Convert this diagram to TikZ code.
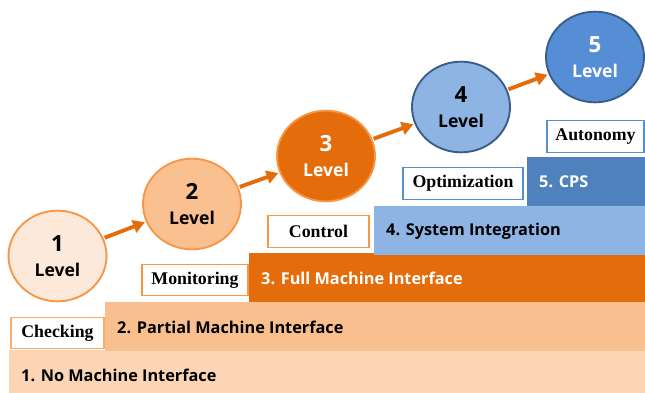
\documentclass[tikz,border=0pt]{standalone}
\usepackage{fontspec}
\setmainfont{Liberation Serif}
\setsansfont{Open Sans}
\usetikzlibrary{shapes.geometric,arrows.meta}
\definecolor{peachA}{HTML}{FBD5B5}
\definecolor{peachB}{HTML}{F9BF8F}
\definecolor{peachC}{HTML}{FDE9D9}
\definecolor{peachD}{HTML}{FAC090}
\definecolor{orangeA}{HTML}{E46C0A}
\definecolor{orangeB}{HTML}{F79646}
\definecolor{blueA}{HTML}{8EB4E3}
\definecolor{blueB}{HTML}{4F81BD}
\definecolor{blueC}{HTML}{558ED5}
\definecolor{blueD}{HTML}{385D8A}
\begin{document}
\begin{tikzpicture}[x=.03cm,y=-.03cm,font=\sffamily\bfseries\fontsize{13.9}{16}\selectfont,
level/.style={ellipse,line width=1.6pt,minimum width=2.94cm,minimum height=2.72cm,inner sep=0pt,align=center,font=\sffamily\bfseries\fontsize{15}{21}\selectfont},
tag/.style={draw,fill=white,line width=.9pt,minimum height=.95cm,inner sep=0pt,font=\rmfamily\bfseries\fontsize{15.2}{17}\selectfont},
hop/.style={draw=orangeA,line width=3.3pt,-{Triangle[length=10pt,width=11pt]},shorten <=1pt,shorten >=1pt}]
\useasboundingbox (0,0) rectangle (645,392);
\fill[white] (0,0) rectangle (645,392);
% steps of the staircase
\foreach \n/\x/\y/\col/\tc/\txt in {1/9/350/peachA/black/No Machine Interface,2/105/302/peachB/black/Partial Machine Interface,3/249/253/orangeA/white/Full Machine Interface,4/374/206/blueA/black/System Integration,5/527/157/blueB/white/CPS}{
\fill[\col] (\x,\y) rectangle (645,\y+49);
\node[anchor=west,inner sep=0pt,text=\tc] (bar\n) at (\x+12,\y+25) {\n. \txt};
}
% boxed keywords
\foreach \n/\cx/\cy/\w/\dc/\txt in {1/57.5/333/93/orangeB!80/Checking,2/195/280/106/orangeB/Monitoring,3/318.5/231.5/101/orangeB/Control,4/463/183.5/120/blueC/Optimization,5/595.5/136.5/97/blueC/Autonomy}{
\node[tag,draw=\dc,minimum width=\w*.03cm] (tag\n) at (\cx,\cy) {\txt};
}
% levels
\foreach \n/\cx/\cy/\fc/\dc/\tc in {1/57.5/256/peachC/orangeB/black,2/192/204/peachD/orangeB/black,3/326/156/orangeA/orangeB/white,4/461/107/blueA/blueD/black,5/595/57/blueC/blueD/white}{
\node[level,fill=\fc,draw=\dc,text=\tc] (lv\n) at (\cx,\cy) {{\fontsize{19}{21}\selectfont\n}\\Level};
}
\foreach \a/\b in {1/2,2/3,3/4,4/5}
\draw[hop] (lv\a) -- (lv\b);
\end{tikzpicture}
\end{document}
